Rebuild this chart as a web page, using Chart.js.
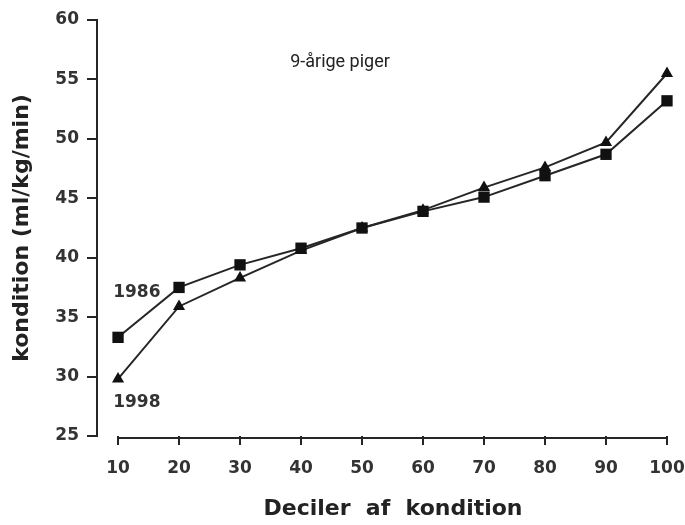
<!DOCTYPE html>
<html>
<head>
<meta charset="utf-8">
<script src="https://cdn.jsdelivr.net/npm/chart.js@4.4.0/dist/chart.umd.min.js"></script>
<style>
html, body { margin: 0; padding: 0; background: #fff; }
</style>
</head>
<body>
<canvas id="mycanvas" width="685" height="525"></canvas>
<script>
var deciles = [10, 20, 30, 40, 50, 60, 70, 80, 90, 100];
var kondition1986 = [33.3, 37.5, 39.4, 40.8, 42.5, 43.9, 45.1, 46.9, 48.7, 53.2];
var kondition1998 = [29.8, 35.9, 38.3, 40.6, 42.5, 44.0, 45.9, 47.6, 49.7, 55.5];
var yTicks = [25, 30, 35, 40, 45, 50, 55, 60];
var seriesNames = ['1986', '1998'];
var chartTitle = '9-årige piger';
var xTitle = 'Deciler  af  kondition';
var yTitle = 'kondition (ml/kg/min)';

var ink = '#262626';

function points(vals) {
	var out = [];
	for (var i in deciles) {
		out.push({x: deciles[i], y: vals[i]});
	}
	return out;
}

// axis line for x, the chart title and the year labels
var extras = {
	id: 'extras',
	afterDraw: function(chart) {
		var ctx = chart.ctx;
		var xs = chart.scales.x;
		var ys = chart.scales.y;
		var area = chart.chartArea;
		ctx.save();
		ctx.strokeStyle = ink;
		ctx.lineWidth = 2;
		ctx.beginPath();
		ctx.moveTo(xs.getPixelForValue(deciles[0]) - 1, area.bottom + 2);
		ctx.lineTo(xs.getPixelForValue(deciles[deciles.length - 1]) + 1, area.bottom + 2);
		ctx.stroke();

		ctx.fillStyle = '#222';
		ctx.font = '18px Roboto';
		ctx.textAlign = 'center';
		ctx.textBaseline = 'middle';
		ctx.fillText(chartTitle, 340, 62);

		ctx.font = 'bold 17px "DejaVu Sans"';
		ctx.fillStyle = '#333';
		ctx.textAlign = 'left';
		ctx.fillText(seriesNames[0], xs.getPixelForValue(9.2), ys.getPixelForValue(37.1));
		ctx.fillText(seriesNames[1], xs.getPixelForValue(9.2), ys.getPixelForValue(27.8));

		// x axis title, a bit right of the plot centre as in the original
		ctx.font = 'bold 22px "DejaVu Sans"';
		ctx.fillStyle = '#222';
		ctx.textAlign = 'center';
		ctx.fillText(xTitle, (area.left + area.right) / 2 + 11, 509);
		ctx.restore();
	}
};

var ctx = document.getElementById('mycanvas');

var chart = new Chart(ctx, {
	type: 'line',
	data: {
		datasets: [
			{
				label: seriesNames[0],
				data: points(kondition1986),
				borderColor: ink,
				backgroundColor: '#111',
				borderWidth: 2,
				pointStyle: 'rect',
				pointRadius: 8,
				pointBorderWidth: 0,
				tension: 0,
				clip: false
			},
			{
				label: seriesNames[1],
				data: points(kondition1998),
				borderColor: ink,
				backgroundColor: '#111',
				borderWidth: 2,
				pointStyle: 'triangle',
				pointRadius: 7,
				pointBorderWidth: 0,
				tension: 0,
				clip: false
			}
		]
	},
	options: {
		responsive: false,
		animation: false,
		layout: {padding: {top: 20, right: 18, left: 0, bottom: 0}},
		plugins: {
			legend: {display: false},
			tooltip: {enabled: false}
		},
		scales: {
			x: {
				type: 'linear',
				min: 6.55,
				max: 100,
				afterBuildTicks: function(s) {
					s.ticks = deciles.map(function(v) { return {value: v}; });
				},
				afterFit: function(s) {
					s.height = 89;
					s.paddingLeft = 0;
					s.paddingRight = 0;
				},
				border: {display: false},
				grid: {
					drawOnChartArea: false,
					drawTicks: true,
					tickLength: 9,
					color: ink,
					lineWidth: 2
				},
				ticks: {
					autoSkip: false,
					maxRotation: 0,
					padding: 13,
					color: '#333',
					font: {family: 'DejaVu Sans', size: 17, weight: 'bold'}
				},
				title: {display: false}
			},
			y: {
				min: 25,
				max: 60,
				afterBuildTicks: function(s) {
					s.ticks = yTicks.map(function(v) { return {value: v}; });
				},
				afterFit: function(s) { s.width = 97; },
				border: {display: true, color: ink, width: 2},
				grid: {
					drawOnChartArea: false,
					drawTicks: true,
					tickLength: 10,
					color: ink,
					lineWidth: 2
				},
				ticks: {
					padding: 8,
					color: '#333',
					font: {family: 'DejaVu Sans', size: 17, weight: 'bold'}
				},
				title: {
					display: true,
					text: yTitle,
					color: '#222',
					padding: {top: 9, bottom: 0},
					font: {family: 'DejaVu Sans', size: 22, weight: 'bold'}
				}
			}
		}
	},
	plugins: [extras]
});
</script>
</body>
</html>
